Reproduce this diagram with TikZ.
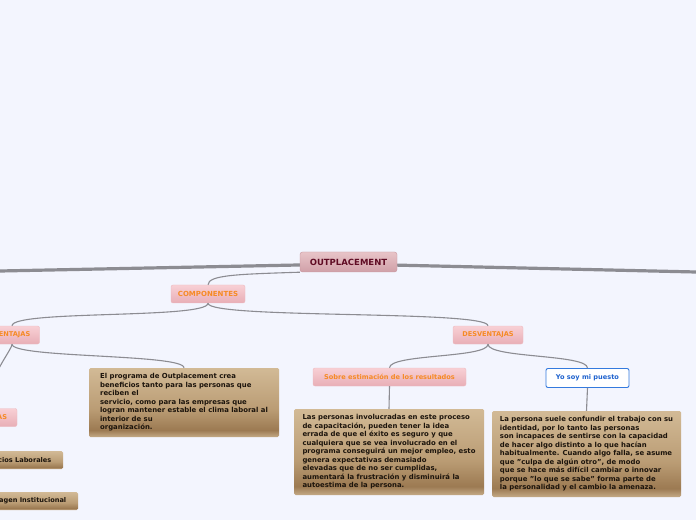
\documentclass[tikz,border=0pt]{standalone}
\usepackage{fontspec}
\setmainfont{DejaVu Sans}
\usetikzlibrary{calc,positioning}

\definecolor{bgblue}{RGB}{243,245,254}
\definecolor{linegray}{RGB}{140,140,146}
\definecolor{pinktop}{RGB}{248,208,213}
\definecolor{pinkbot}{RGB}{232,174,182}
\definecolor{pinkedge}{RGB}{236,186,192}
\definecolor{orangetxt}{RGB}{246,138,36}
\definecolor{roottop}{RGB}{232,196,200}
\definecolor{rootbot}{RGB}{208,160,168}
\definecolor{rootedge}{RGB}{200,150,158}
\definecolor{roottxt}{RGB}{96,12,36}
\definecolor{tantop}{RGB}{210,186,150}
\definecolor{tanmid}{RGB}{186,156,116}
\definecolor{tandark}{RGB}{156,122,82}
\definecolor{tanlow}{RGB}{196,170,134}
\definecolor{bluebord}{RGB}{52,122,222}
\definecolor{bluetxt}{RGB}{30,98,206}
\definecolor{darktxt}{RGB}{28,20,12}

\pgfdeclareverticalshading{tanshade}{100bp}{color(0bp)=(tanlow); color(25bp)=(tanlow); color(30bp)=(tandark); color(45bp)=(tanmid); color(75bp)=(tantop); color(100bp)=(tantop)}

\begin{document}
\begin{tikzpicture}[x=1pt, y=1pt,
  rootbox/.style={rounded corners=2.5pt, draw=rootedge, top color=roottop, bottom color=rootbot,
    text=roottxt, font=\fontsize{8.5}{10}\selectfont\bfseries, minimum width=97, minimum height=20, inner sep=0pt},
  pinkbox/.style={rounded corners=2pt, draw=pinkedge, top color=pinktop, bottom color=pinkbot,
    text=orangetxt, font=\fontsize{6.6}{8}\selectfont\bfseries, minimum height=18, inner sep=0pt},
  tanbox/.style={rounded corners=1.5pt, shade, shading=tanshade, text=darktxt,
    font=\fontsize{6.9}{8.5}\selectfont\bfseries, align=left, inner sep=0pt},
  bluebox/.style={rounded corners=2pt, draw=bluebord, line width=0.9pt, fill=white, text=bluetxt,
    font=\fontsize{6.6}{8}\selectfont\bfseries, minimum height=19, inner sep=0pt},
  conn/.style={draw=linegray, line width=1.1pt},
  trunk/.style={draw=linegray, line width=3.2pt}]

  \useasboundingbox (0,0) rectangle (696,520);
  \fill[bgblue] (0,0) rectangle (696,520);
  \clip (0,0) rectangle (696,520);

  % Root and the two trunk lines
  \coordinate (leftend) at (0,249);
  \coordinate (rightend) at (696,248);
  \draw[trunk] (348,256) -- (leftend);
  \draw[trunk] (348,256) -- (rightend);
  \node[rootbox] (outp) at (348.5,258) {OUTPLACEMENT};

  % Components
  \node[pinkbox, minimum width=74] (comp) at (208,226) {\fontsize{7}{8}\selectfont COMPONENTES};
  \draw[conn] (outp.south west) .. controls +(-60,-2) and +(0,10) .. (comp.north);

  % Ventajas (left, cut by the edge)
  \node[pinkbox, minimum width=55] (vent) at (12,185) {VENTAJAS};
  \node[pinkbox, minimum width=60] (emp) at (-13,102.5) {EMPRESAS};
  \node[tanbox, minimum width=100, minimum height=18] (benef) at (13,60) {\fontsize{6.6}{8}\selectfont Beneficios Laborales};
  \node[tanbox, minimum width=100, minimum height=18] (imagen) at (28,19) {\fontsize{6.6}{8}\selectfont Imagen Institucional};
  \node[tanbox, minimum width=190, minimum height=69] (ventbox) at (184,117.5)
    {El programa de Outplacement crea\\
     beneficios tanto para las personas que\\
     reciben el\\
     servicio, como para las empresas que\\
     logran mantener estable el clima laboral al\\
     interior de su\\
     organización.};
  \draw[conn] (comp.south) .. controls +(0,-16) and +(0,16) .. (vent.north);
  \draw[conn] (vent.south) .. controls +(0,-14) and +(0,14) .. (ventbox.north);
  \draw[conn] (vent.south) .. controls +(0,-6) and +(0,30) .. (emp.north);
  \draw[conn] (emp.west) .. controls +(-10,0) and +(-10,0) .. (benef.west);
  \draw[conn] (emp.west) .. controls +(-20,0) and +(-20,0) .. (imagen.west);

  % Desventajas (right)
  \node[pinkbox, minimum width=70] (desv) at (488,185) {DESVENTAJAS};
  \draw[conn] (comp.south) .. controls +(0,-16) and +(0,16) .. (desv.north);

  \node[pinkbox, minimum width=153] (sobre) at (389.5,143) {Sobre estimación de los resultados};
  \node[bluebox, minimum width=83] (yosoy) at (587.5,142) {Yo soy mi puesto};
  \draw[conn] (desv.south) .. controls +(0,-14) and +(0,14) .. (sobre.north);
  \draw[conn] (desv.south) .. controls +(0,-14) and +(0,14) .. (yosoy.north);

  \node[tanbox, minimum width=190, minimum height=86] (sobrebox) at (389,68)
    {Las personas involucradas en este proceso\\
     de capacitación, pueden tener la idea\\
     errada de que el éxito es seguro y que\\
     cualquiera que se vea involucrado en el\\
     programa conseguirá un mejor empleo, esto\\
     genera expectativas demasiado\\
     elevadas que de no ser cumplidas,\\
     aumentará la frustración y disminuirá la\\
     autoestima de la persona.};
  \node[tanbox, minimum width=189, minimum height=86] (yosoybox) at (586.5,66)
    {La persona suele confundir el trabajo con su\\
     identidad, por lo tanto las personas\\
     son incapaces de sentirse con la capacidad\\
     de hacer algo distinto a lo que hacían\\
     habitualmente. Cuando algo falla, se asume\\
     que "culpa de algún otro", de modo\\
     que se hace más difícil cambiar o innovar\\
     porque "lo que se sabe" forma parte de\\
     la personalidad y el cambio la amenaza.};
  \draw[conn] (sobre.south) -- (sobrebox.north);
  \draw[conn] (yosoy.south) -- (yosoybox.north);

\end{tikzpicture}
\end{document}
